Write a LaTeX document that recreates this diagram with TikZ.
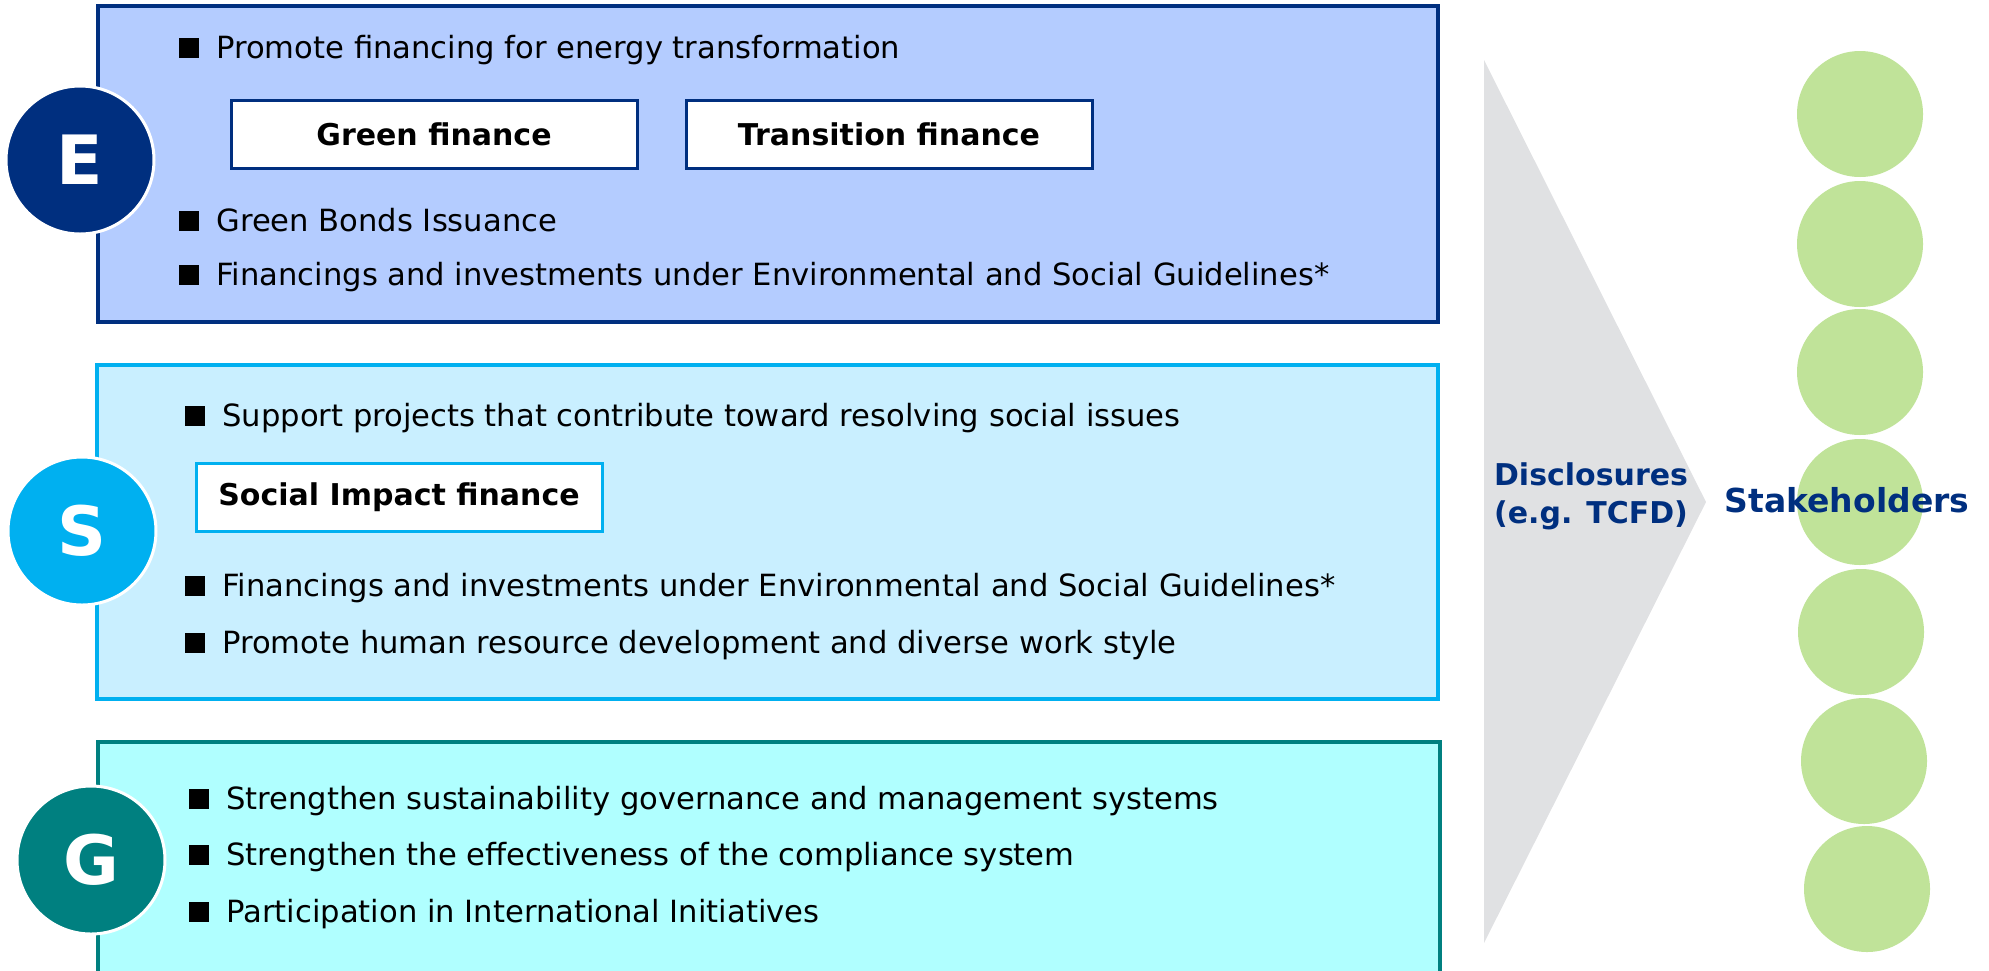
\documentclass[tikz,border=0pt]{standalone}
\usepackage{fontspec}
\setmainfont{DejaVu Sans}
\usetikzlibrary{positioning}
\definecolor{esgnavy}{RGB}{0,47,127}
\definecolor{efill}{RGB}{180,204,255}
\definecolor{scyan}{RGB}{0,176,240}
\definecolor{sfill}{RGB}{201,239,255}
\definecolor{gteal}{RGB}{0,128,128}
\definecolor{gfill}{RGB}{176,255,255}
\definecolor{arrowgray}{RGB}{224,225,227}
\definecolor{holdgreen}{RGB}{192,227,153}
\newcommand{\sqbullet}{\rule[0.2pt]{10pt}{10pt}\hspace{8.5pt}}

\begin{document}
\begin{tikzpicture}[x=0.5pt, y=-0.5pt, every node/.style={font=\fontsize{15.3}{18}\selectfont},
  item/.style={anchor=west, inner sep=0pt},
  tag/.style={draw, fill=white, line width=1.5pt, minimum width=203pt, minimum height=34pt, inner sep=0pt, font=\bfseries\fontsize{15}{18}\selectfont},
  letter/.style={circle, draw=white, line width=1.5pt, minimum size=74pt, inner sep=0pt, text=white, font=\bfseries\fontsize{34}{40}\selectfont},
  holder/.style={circle, fill=holdgreen, minimum size=63pt, inner sep=0pt},
  heading/.style={text=esgnavy, align=center, font=\bfseries\fontsize{15}{19}\selectfont}]
  \useasboundingbox (0,0) rectangle (1989,970);
  % E block
  \draw[esgnavy, fill=efill, line width=2pt] (98,6) rectangle (1438,322);
  \node[letter, fill=esgnavy] (E) at (80,160) {E};
  \node[item] (e1) at (179,50) {\sqbullet Promote financing for energy transformation};
  \node[tag, draw=esgnavy] (green) at (434,134) {Green finance};
  \node[tag, draw=esgnavy] (transition) at (889,134) {Transition finance};
  \node[item] (e2) at (179,220) {\sqbullet Green Bonds Issuance};
  \node[item] (e3) at (179,277) {\sqbullet Financings and investments under Environmental and Social Guidelines*};
  % S block
  \draw[scyan, fill=sfill, line width=2pt] (97,365) rectangle (1438,699);
  \node[letter, fill=scyan] (S) at (82,531) {S};
  \node[item] (s1) at (185,418) {\sqbullet Support projects that contribute toward resolving social issues};
  \node[tag, draw=scyan] (social) at (399,497) {Social Impact finance};
  \node[item] (s2) at (185,588) {\sqbullet Financings and investments under Environmental and Social Guidelines*};
  \node[item] (s3) at (185,645) {\sqbullet Promote human resource development and diverse work style};
  % G block
  \draw[gteal, fill=gfill, line width=2pt] (98,742) rectangle (1440,975);
  \node[letter, fill=gteal] (G) at (91,860) {G};
  \node[item] (g1) at (189,801) {\sqbullet Strengthen sustainability governance and management systems};
  \node[item] (g2) at (189,857) {\sqbullet Strengthen the effectiveness of the compliance system};
  \node[item] (g3) at (189,914) {\sqbullet Participation in International Initiatives};
  % disclosure arrow
  \fill[arrowgray] (1484,60) -- (1706,502) -- (1484,943) -- cycle;
  \node[heading] (disc) at (1591,496) {Disclosures\\(e.g. TCFD)};
  % stakeholders
  \foreach \x/\y [count=\i] in {1860/114, 1860/244, 1860/372, 1860/502, 1861/632, 1864/761, 1867/889}
    \node[holder] (h\i) at (\x,\y) {};
  \node[heading, font=\bfseries\fontsize{16.5}{19}\selectfont] (stake) at (1847,500) {Stakeholders};
\end{tikzpicture}
\end{document}
